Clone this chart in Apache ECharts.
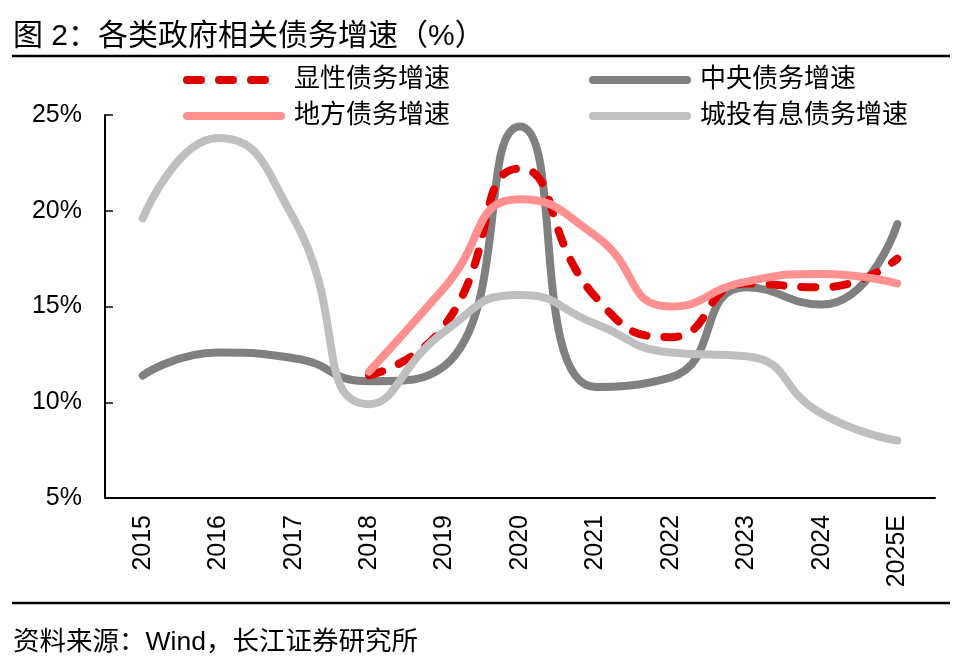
<!DOCTYPE html>
<html><head><meta charset="utf-8">
<script src="https://cdn.jsdelivr.net/npm/echarts@6/dist/echarts.min.js"></script>
<style>html,body{margin:0;padding:0;background:#fff}#c{width:962px;height:668px}</style>
</head><body><div id="c"></div>
<script>
var categories = ['2015','2016','2017','2018','2019','2020','2021','2022','2023','2024','2025E'];
var explicitDebt = [null,null,null,11.4,14.0,22.2,15.5,13.4,16.2,16.0,17.5];
var centralDebt = [11.4,12.6,12.3,11.1,11.9,24.4,10.8,11.3,16.0,15.1,19.3];
var localDebt = [null,null,null,11.6,16.0,20.6,18.7,15.0,16.3,16.7,16.2];
var lgfvDebt = [19.6,23.8,19.6,9.9,13.7,15.6,14.1,12.6,12.4,9.4,8.0];
var yTicks = [5,10,15,20,25];

var FONT = '"Liberation Sans", "Noto Sans CJK SC", sans-serif';
var chart = echarts.init(document.getElementById('c'));
var legendText = {fontSize: 26, fontFamily: FONT, color: '#000', padding: [0, 0, 0, 8]};
var legendBase = {left: 183, itemWidth: 94, itemHeight: 12, itemGap: 139, padding: 0,
  textStyle: legendText, itemStyle: {opacity: 0}, lineStyle: {width: 8, cap: 'round'}};
chart.setOption({
  animation: false,
  textStyle: {fontFamily: FONT},
  title: [
    {text: '图 2：各类政府相关债务增速（%）', left: 8, top: 17, textStyle: {fontSize: 30, fontWeight: 'normal', color: '#000', fontFamily: FONT}},
    {text: '资料来源：Wind，长江证券研究所', left: 8, top: 624, textStyle: {fontSize: 26.5, fontWeight: 'normal', color: '#000', fontFamily: FONT}}
  ],
  graphic: [
    {type: 'line', shape: {x1: 12, y1: 56, x2: 950, y2: 56}, style: {stroke: '#000', lineWidth: 2.5}},
    {type: 'line', shape: {x1: 12, y1: 603, x2: 950, y2: 603}, style: {stroke: '#000', lineWidth: 2.5}}
  ],
  legend: [
    Object.assign({data: ['显性债务增速', '中央债务增速'], top: 67}, legendBase),
    Object.assign({data: ['地方债务增速', '城投有息债务增速'], top: 103}, legendBase)
  ],
  grid: {left: 105, right: 27, top: 115, bottom: 170},
  xAxis: {
    type: 'category', data: categories, boundaryGap: true,
    axisLine: {lineStyle: {color: '#000', width: 2}},
    axisTick: {inside: true, length: 8, lineStyle: {color: '#000', width: 1.5}},
    axisLabel: {rotate: 90, fontSize: 25, color: '#000', margin: 17, fontFamily: FONT}
  },
  yAxis: {
    type: 'value', min: yTicks[0], max: yTicks[yTicks.length-1], interval: 5,
    splitLine: {show: false},
    axisLine: {show: true, lineStyle: {color: '#000', width: 2}},
    axisTick: {show: true, inside: true, length: 8, lineStyle: {color: '#000', width: 1.5}},
    axisLabel: {formatter: '{value}%', fontSize: 25, color: '#000', margin: 23, fontFamily: FONT}
  },
  series: [
    {name: '中央债务增速', type: 'line', data: centralDebt, smooth: 0.55, symbol: 'none',
     lineStyle: {color: '#808080', width: 8, cap: 'round'}, itemStyle: {color: '#808080'}},
    {name: '显性债务增速', type: 'line', data: explicitDebt, smooth: 0.55, symbol: 'none',
     lineStyle: {color: '#e00000', width: 8, type: [14, 18], cap: 'round'}, itemStyle: {color: '#e00000'}},
    {name: '地方债务增速', type: 'line', data: localDebt, smooth: 0.55, symbol: 'none',
     lineStyle: {color: '#ff9090', width: 8, cap: 'round'}, itemStyle: {color: '#ff9090'}},
    {name: '城投有息债务增速', type: 'line', data: lgfvDebt, smooth: 0.55, symbol: 'none',
     lineStyle: {color: '#bfbfbf', width: 8, cap: 'round'}, itemStyle: {color: '#bfbfbf'}}
  ]
});
</script></body></html>
